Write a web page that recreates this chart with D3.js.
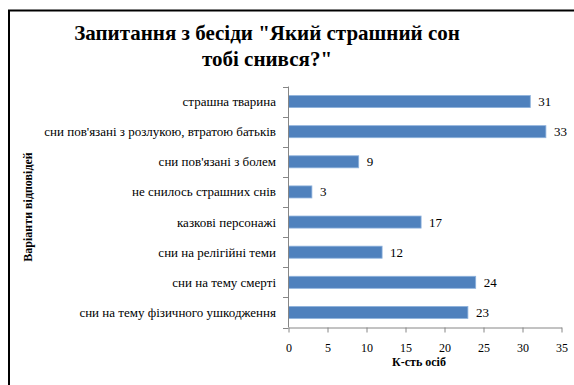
<!DOCTYPE html>
<html><head><meta charset="utf-8">
<script src="https://cdn.jsdelivr.net/npm/d3@7"></script>
<style>
body{margin:0;background:#fff;}
svg{display:block;}
</style></head>
<body>
<svg id="c" width="574" height="385"></svg>
<script>
const categories = [
  "страшна тварина",
  "сни пов'язані з розлукою, втратою батьків",
  "сни пов'язані з болем",
  "не снилось страшних снів",
  "казкові персонажі",
  "сни на релігійні  теми",
  "сни на тему смерті",
  "сни на тему фізичного  ушкодження"
];
const values = [31, 33, 9, 3, 17, 12, 24, 23];
const xTicks = [0, 5, 10, 15, 20, 25, 30, 35];
const titleLines = ["Запитання з бесіди \"Який страшний сон", "тобі снився?\""];
const xTitle = "К-сть осіб";
const yTitle = "Варіанти відповідей";

const FONT = "Liberation Serif, Times New Roman, serif";
const svg = d3.select("#c").attr("font-family", FONT);
// frame
svg.append("line").attr("x1",8).attr("x2",574).attr("y1",10.5).attr("y2",10.5).attr("stroke","#000").attr("stroke-width",2);
svg.append("line").attr("x1",9).attr("x2",9).attr("y1",10).attr("y2",385).attr("stroke","#000").attr("stroke-width",2);

const x = d3.scaleLinear().domain([0,35]).range([288.5, 561.5]);
const y = d3.scaleBand().domain(categories).range([86.5, 327.5]).paddingInner(0.6).paddingOuter(0.3);

// title
svg.append("text").attr("x",267).attr("y",40).attr("text-anchor","middle")
  .attr("font-size",21).attr("font-weight","bold").text(titleLines[0]);
svg.append("text").attr("x",267).attr("y",66).attr("text-anchor","middle")
  .attr("font-size",21).attr("font-weight","bold").text(titleLines[1]);

// bars
svg.selectAll("rect.bar").data(values).join("rect").attr("class","bar")
  .attr("x", x(0)).attr("y",(d,i)=>y(categories[i]))
  .attr("width",d=>x(d)-x(0)).attr("height",y.bandwidth())
  .attr("fill","#4F81BD").attr("stroke","#8EB2DD").attr("stroke-width",0.8);

// value labels
svg.selectAll("text.val").data(values).join("text").attr("class","val")
  .attr("x",d=>x(d)+8).attr("y",(d,i)=>y(categories[i])+y.bandwidth()/2+4.5)
  .attr("font-size",13).text(d=>d);

// y axis
const axisColor = "#868686";
svg.append("line").attr("x1",288.5).attr("x2",288.5).attr("y1",86.5).attr("y2",327.5).attr("stroke",axisColor);
const step = (327.5-86.5)/categories.length;
for(let i=0;i<=categories.length;i++){
  const yy = 86.5 + i*step;
  svg.append("line").attr("x1",283).attr("x2",288.5).attr("y1",Math.round(yy)+0.5).attr("y2",Math.round(yy)+0.5).attr("stroke",axisColor);
}
svg.selectAll("text.cat").data(categories).join("text").attr("class","cat")
  .attr("x",276).attr("y",d=>y(d)+y.bandwidth()/2+4.5).attr("text-anchor","end")
  .attr("font-size",13).text(d=>d);

// x axis
const xa = svg.append("g").attr("transform","translate(0,327.5)")
  .call(d3.axisBottom(x).tickValues(xTicks).tickSize(5).tickSizeOuter(0).tickPadding(11));
xa.attr("font-family",FONT);
xa.select(".domain").attr("stroke",axisColor);
xa.selectAll(".tick line").attr("stroke",axisColor);
xa.selectAll(".tick text").attr("font-size",12).attr("fill","#000");

svg.append("text").attr("x",419).attr("y",366).attr("text-anchor","middle")
  .attr("font-size",12).attr("font-weight","bold").text(xTitle);
svg.append("text").attr("transform","translate(32,207) rotate(-90)").attr("text-anchor","middle")
  .attr("font-size",12).attr("font-weight","bold").text(yTitle);
</script>
</body></html>
